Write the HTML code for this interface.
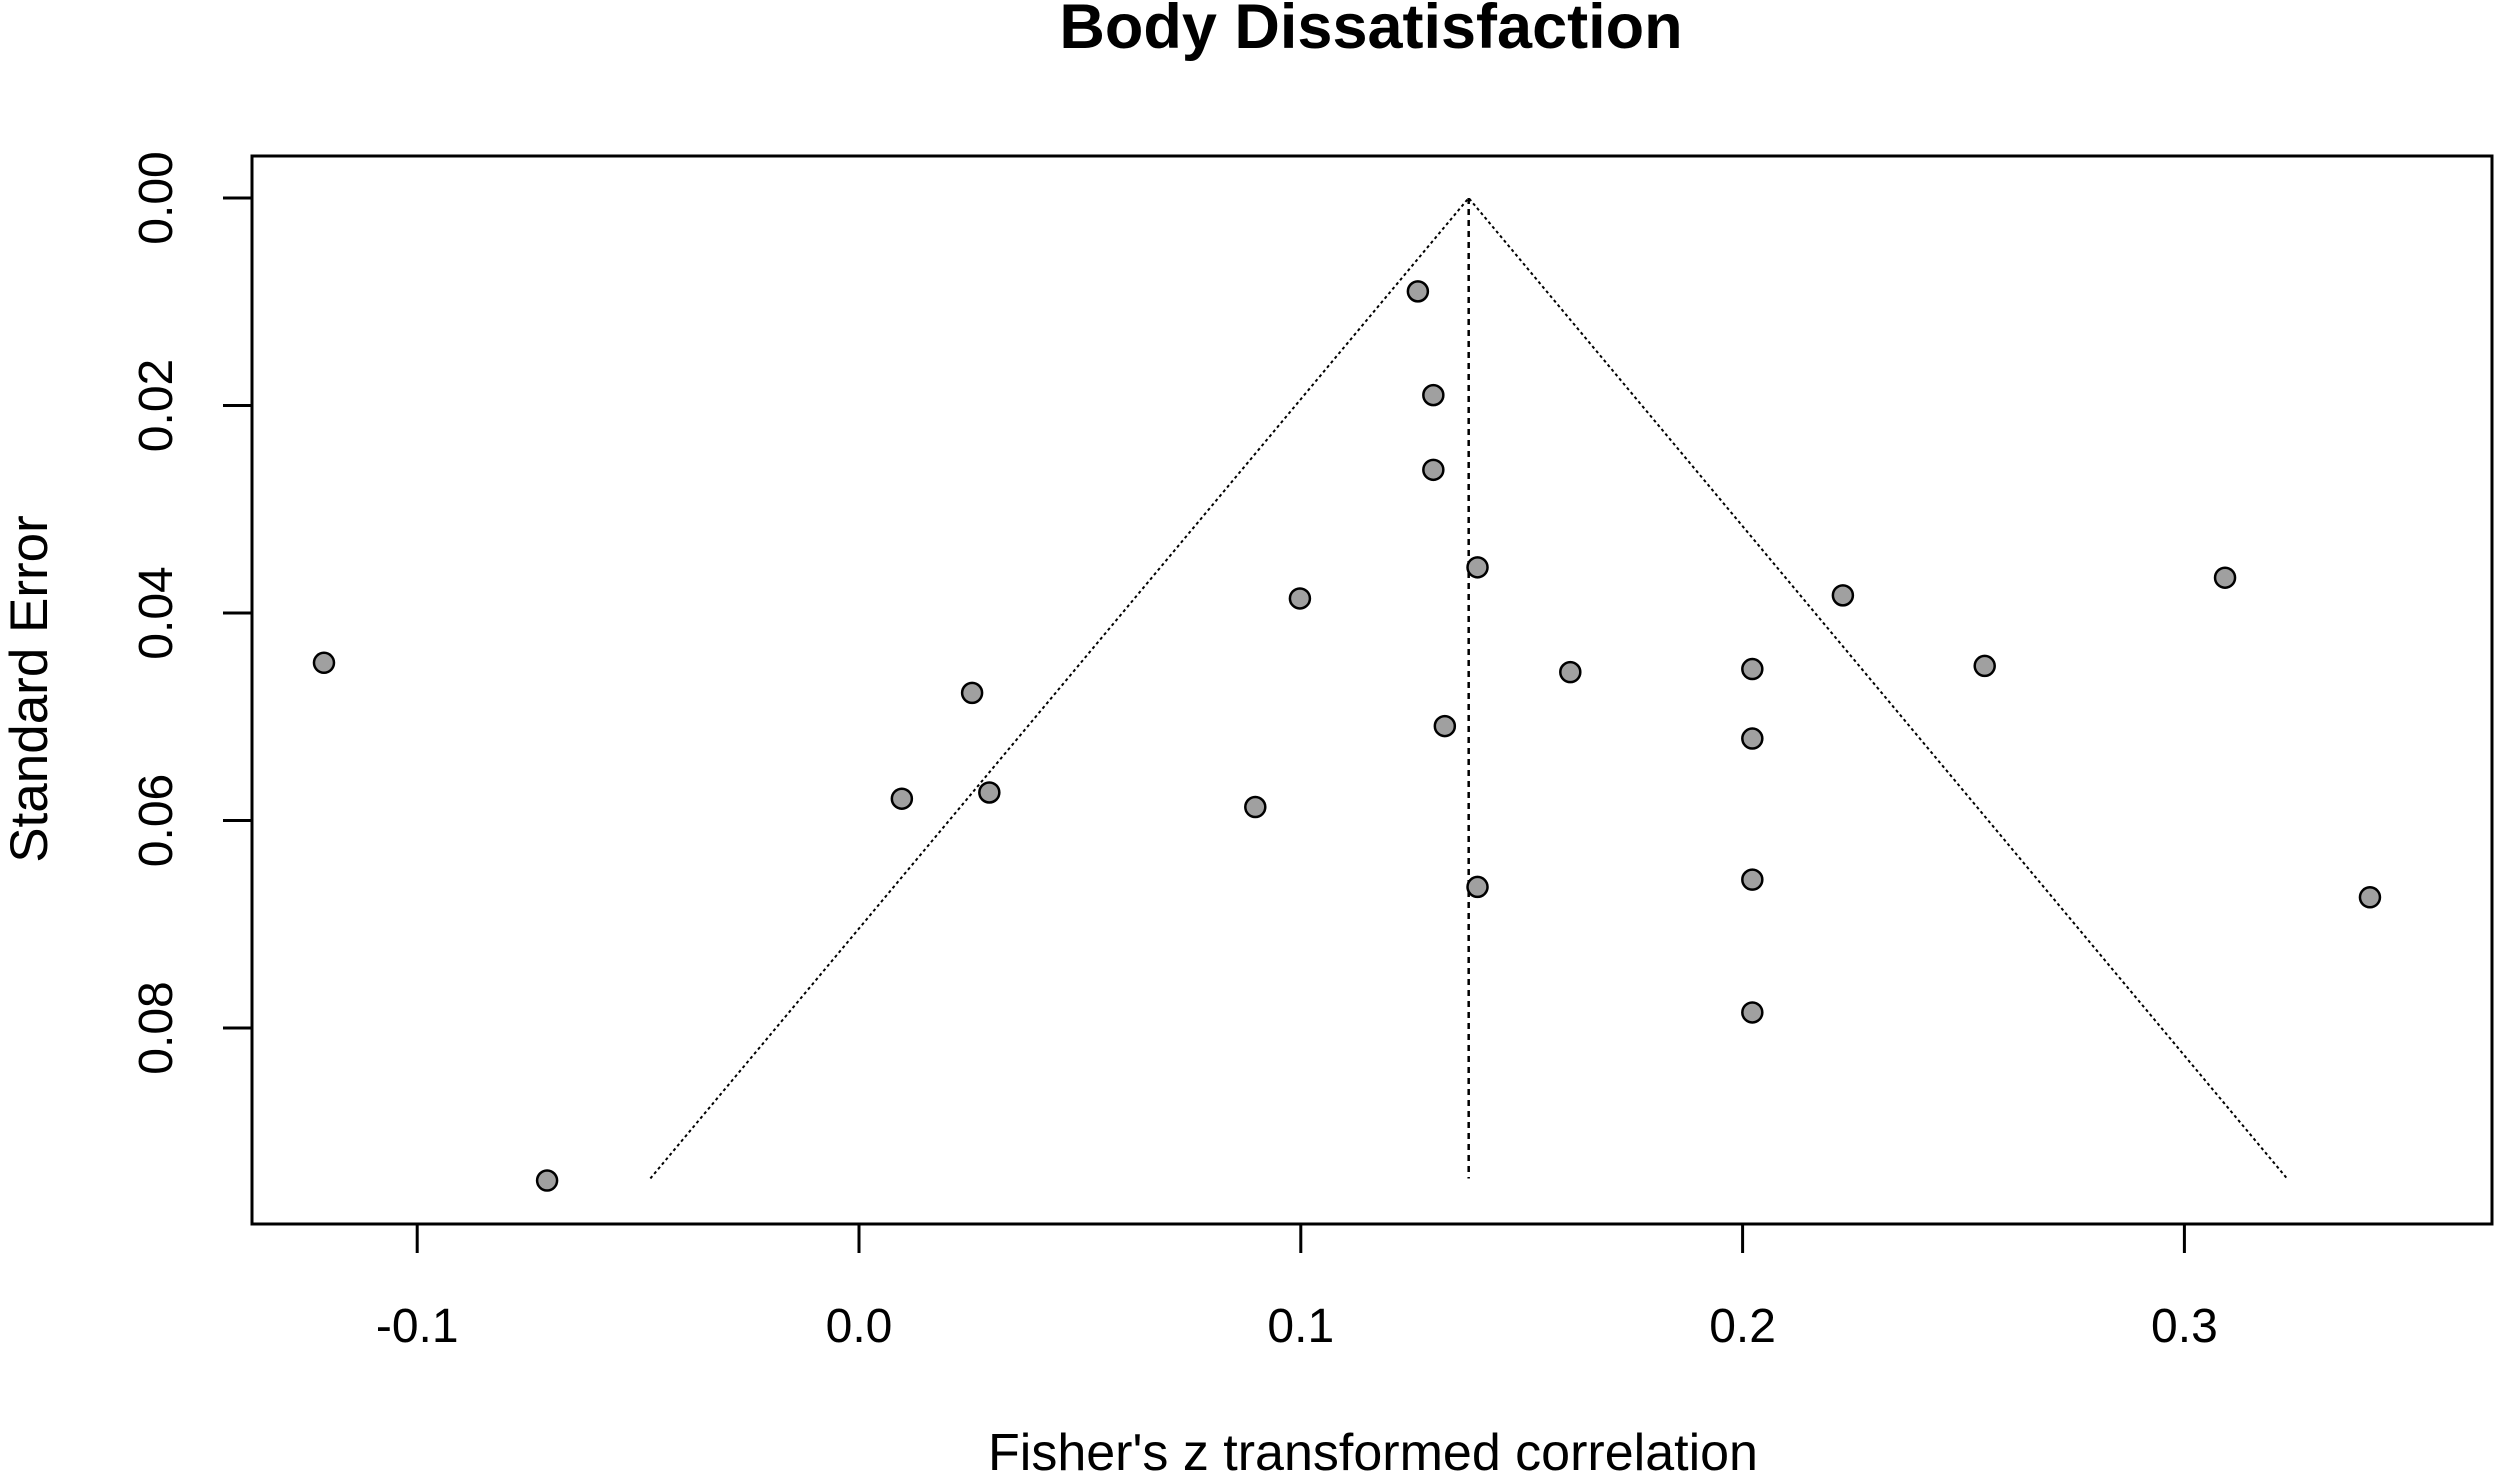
<!DOCTYPE html>
<html><head><meta charset="utf-8"><style>
html,body{margin:0;padding:0;background:#fff;}
svg{display:block;font-family:"Liberation Sans",Arial,sans-serif;}
</style></head><body>
<svg id="chart" width="2500" height="1478" viewBox="0 0 2500 1478" xmlns="http://www.w3.org/2000/svg">
<rect width="2500" height="1478" fill="#fff"/>
<text x="1371" y="48" font-size="63" font-weight="bold" text-anchor="middle">Body Dissatisfaction</text>
<rect x="252" y="156" width="2240" height="1068" fill="none" stroke="#000" stroke-width="3"/>
<g id="marks"></g>
<text x="1373" y="1470" font-size="52" text-anchor="middle">Fisher's z transformed correlation</text>
<text transform="translate(47,689) rotate(-90)" font-size="53" text-anchor="middle">Standard Error</text>
</svg>
<script>
const xTicks = [-0.1, 0.0, 0.1, 0.2, 0.3];
const xTickLabels = ["-0.1", "0.0", "0.1", "0.2", "0.3"];
const yTicks = [0.00, 0.02, 0.04, 0.06, 0.08];
const yTickLabels = ["0.00", "0.02", "0.04", "0.06", "0.08"];
const effects = [0.1265,0.130,0.130,0.140,0.0998,0.2227,0.3092,-0.1211,0.0256,0.161,0.2022,0.2548,0.1326,0.2022,0.0097,0.0295,0.0897,0.140,0.2022,0.342,0.2022,-0.0706];
const stdErrors = [0.0090,0.0190,0.0262,0.0356,0.0386,0.0383,0.0366,0.0448,0.0477,0.0457,0.0454,0.0451,0.0509,0.0521,0.0579,0.0573,0.0587,0.0664,0.0657,0.0674,0.0785,0.0947];
const pooledEstimate = [0.138];
const funnelMaxSE = [0.0945];

const X = v => 859 + v * 4418;
const Y = v => 198 + v * 10375;
const ns = "http://www.w3.org/2000/svg";
const g = document.getElementById('marks');
function mk(tag, attrs){const e=document.createElementNS(ns,tag);for(const k in attrs)e.setAttribute(k,attrs[k]);g.appendChild(e);return e;}

xTicks.forEach((t,i)=>{
  const l = mk('line',{x1:X(t),x2:X(t),y1:1224,y2:1253,stroke:'#000','stroke-width':3});
  
  
  const tx = mk('text',{x:X(t),y:1342,'font-size':48,'text-anchor':'middle'});
  tx.textContent = xTickLabels[i];
  
  
});
yTicks.forEach((t,i)=>{
  const l = mk('line',{x1:223,x2:252,y1:Y(t),y2:Y(t),stroke:'#000','stroke-width':3});
  
  
  const tx = mk('text',{transform:`translate(172,${Y(t)}) rotate(-90)`,'font-size':48,'text-anchor':'middle'});
  tx.textContent = yTickLabels[i];
  
  
});
const c = pooledEstimate[0], m = funnelMaxSE[0];
const fl = mk('polyline',{points:`${X(c-1.96*m)},${Y(m)} ${X(c)},${Y(0)} ${X(c+1.96*m)},${Y(m)}`,fill:'none',stroke:'#000','stroke-width':2,'stroke-dasharray':'3 3'});


const vl = mk('line',{x1:X(c),x2:X(c),y1:Y(0),y2:Y(m),stroke:'#000','stroke-width':2.5,'stroke-dasharray':'6 5'});


effects.forEach((e,i)=>{
  const p = mk('circle',{cx:X(e),cy:Y(stdErrors[i]),r:10,fill:'#a0a0a0',stroke:'#000','stroke-width':2.5});
  
  
});
</script>
</body></html>
